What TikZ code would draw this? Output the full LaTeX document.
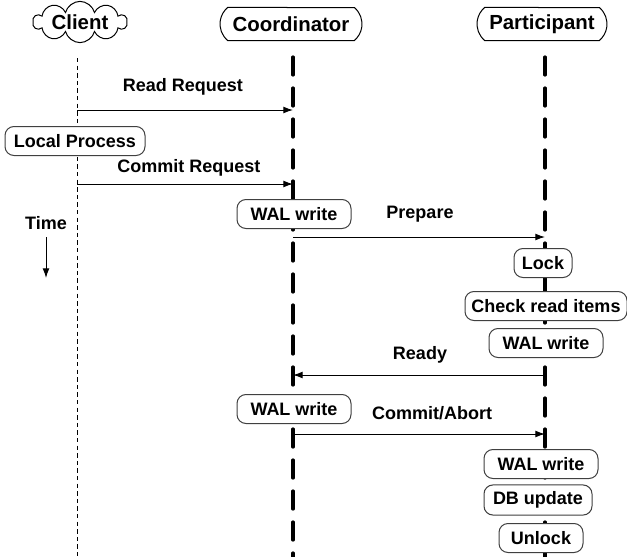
\documentclass[tikz,border=0pt]{standalone}
\usepackage{fontspec}
\setmainfont{Liberation Sans}
\usetikzlibrary{shapes.symbols,shapes.misc,arrows.meta}
\tikzset{
    every node/.style={font=\fontsize{9}{11}\selectfont\bfseries},
    actor/.style={draw, rounded rectangle, rounded rectangle arc length=100, minimum height=16.5pt, inner xsep=4pt, line width=0.5pt, font=\fontsize{10.2}{12}\selectfont\bfseries},
    stepbox/.style={draw=black!75, fill=white, rounded corners=4.5pt, minimum height=14.5pt, inner xsep=0pt, line width=0.5pt},
    msg/.style={-{Latex[length=4.8pt,width=3.4pt]}, line width=0.5pt},
    lifeline/.style={line width=1.6pt, line cap=round, dash pattern=on 9pt off 6.5pt},
}

\begin{document}
\begin{tikzpicture}[x=0.5pt, y=-0.5pt]
    \useasboundingbox (0,0) rectangle (627,557);

    % Actors
    \node[draw, cloud, cloud puffs=10, aspect=4.2, minimum width=47pt, minimum height=11pt, inner sep=0pt, line width=0.5pt, font=\fontsize{10.2}{12}\selectfont\bfseries] (client) at (80,22) {Client};
    \node[actor, minimum width=79pt] (coord) at (291,24) {Coordinator};
    \node[actor, minimum width=73pt] (part) at (542,24) {Participant};

    % Lifelines
    \coordinate (client-top) at (77,58);
    \coordinate (client-bot) at (77,557);
    \coordinate (coord-top) at (293,57);
    \coordinate (coord-bot) at (293,557);
    \coordinate (part-top) at (545,57);
    \coordinate (part-bot) at (545,557);
    \draw[line width=0.5pt, dash pattern=on 2.2pt off 1.6pt] (client-top) -- (client-bot);
    \draw[lifeline] (coord-top) -- (coord-bot);
    \draw[lifeline] (part-top) -- (part-bot);

    % Client side
    \coordinate (rr-a) at (77,110);
    \coordinate (rr-b) at (293,110);
    \draw[msg] (rr-a) -- (rr-b);
    \node (rr) at (183,87) {Read Request};
    \node[stepbox, minimum width=70pt] (local) at (75,141) {Local Process};
    \coordinate (cr-a) at (77,184);
    \coordinate (cr-b) at (293,184);
    \draw[msg] (cr-a) -- (cr-b);
    \node (cr) at (189,168) {Commit Request};

    % Time
    \node (time) at (46,223) {Time};
    \coordinate (time-a) at (46,237);
    \coordinate (time-b) at (46,278);
    \draw[msg] (time-a) -- (time-b);

    % Prepare phase
    \node[stepbox, minimum width=57pt] (cwal1) at (294,214) {WAL write};
    \coordinate (prep-a) at (293,237);
    \coordinate (prep-b) at (545,237);
    \draw[msg] (prep-a) -- (prep-b);
    \node (prep) at (420,214) {Prepare};
    \node[stepbox, minimum width=29pt] (lock) at (543,263) {Lock};
    \node[stepbox, minimum width=81pt] (check) at (546,306) {Check read items};
    \node[stepbox, minimum width=57pt] (pwal1) at (546,343) {WAL write};
    \coordinate (ready-a) at (545,375);
    \coordinate (ready-b) at (293,375);
    \draw[msg] (ready-a) -- (ready-b);
    \node (ready) at (420,355) {Ready};

    % Commit phase
    \node[stepbox, minimum width=57pt] (cwal2) at (294,409) {WAL write};
    \coordinate (ca-a) at (293,434);
    \coordinate (ca-b) at (545,434);
    \draw[msg] (ca-a) -- (ca-b);
    \node (ca) at (432,413) {Commit/Abort};
    \node[stepbox, minimum width=57pt] (pwal2) at (541,464) {WAL write};
    \node[stepbox, minimum width=54pt] (dbup) at (538,500) {DB update};
    \node[stepbox, minimum width=42pt] (unlock) at (541,538) {Unlock};
\end{tikzpicture}
\end{document}
